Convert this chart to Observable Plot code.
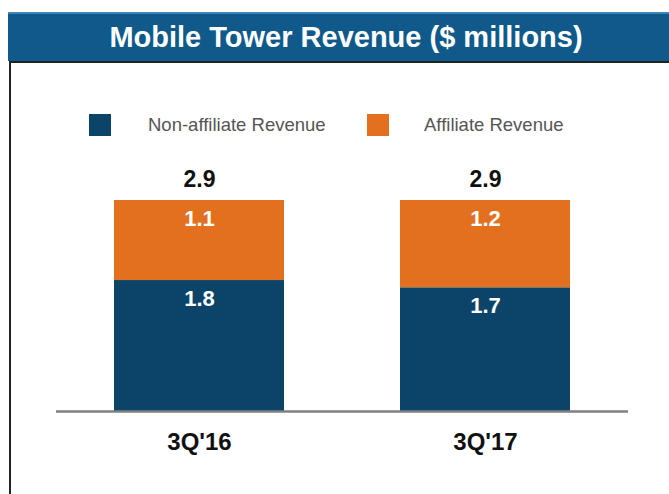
<!DOCTYPE html>
<html>
<head>
<meta charset="utf-8">
<script src="https://cdn.jsdelivr.net/npm/d3@7"></script>
<script src="https://cdn.jsdelivr.net/npm/@observablehq/plot@0.6"></script>
<style>
  html, body { margin: 0; padding: 0; background: #fff; }
  #wrap { position: relative; width: 669px; height: 494px; overflow: hidden; font-family: "Liberation Sans", Arial, sans-serif; }
  #title { position: absolute; left: 8px; top: 12px; width: 676px; height: 49px; background: #0f5a8a; border-top: 2px solid #3f86b8; color: #fff; font-weight: bold; font-size: 29px; line-height: 47px; text-align: center; box-sizing: border-box; }
  #frame { position: absolute; left: 9px; top: 61px; width: 700px; height: 500px; border-left: 2px solid #222; border-top: 2px solid #222; box-sizing: border-box; }
  .leg { position: absolute; top: 114px; height: 22px; display: flex; align-items: center; font-size: 18.5px; color: #555; }
  .sw { width: 22px; height: 22px; display: inline-block; }
  #chart { position: absolute; left: 0; top: 150px; }
</style>
</head>
<body>
<div id="wrap">
  <div id="frame"></div>
  <div id="title">Mobile Tower Revenue ($ millions)</div>
  <div class="leg" id="leg1" style="left:89px"></div>
  <div class="leg" id="leg2" style="left:367px"></div>
  <div id="chart"></div>
</div>
<script>
const categories = ["3Q'16", "3Q'17"];
const nonAffiliate = [1.8, 1.7];
const affiliate = [1.1, 1.2];
const totals = [2.9, 2.9];
const seriesNames = ["Non-affiliate Revenue", "Affiliate Revenue"];
const seriesColors = ["#0b4468", "#e2701f"];

// legend
[["leg1", 0, 37], ["leg2", 1, 35]].forEach(([id, i, gap]) => {
  const el = document.getElementById(id);
  el.innerHTML = `<span class="sw" style="background:${seriesColors[i]}"></span><span style="margin-left:${gap}px">${seriesNames[i]}</span>`;
});

const rows = [];
categories.forEach((c, i) => {
  rows.push({cat: c, series: seriesNames[0], value: nonAffiliate[i], base: 0});
  rows.push({cat: c, series: seriesNames[1], value: affiliate[i], base: nonAffiliate[i]});
});
const totalRows = categories.map((c, i) => ({cat: c, total: totals[i]}));

const chart = Plot.plot({
  width: 669,
  height: 320,
  marginLeft: 56,
  marginRight: 41,
  marginTop: 50,
  marginBottom: 59,
  style: {fontFamily: "Liberation Sans, Arial, sans-serif", background: "transparent"},
  x: {domain: categories, paddingInner: 0.406, paddingOuter: 0.203, label: null},
  y: {domain: [0, 2.9], axis: null},
  color: {domain: seriesNames, range: seriesColors},
  marks: [
    Plot.barY(rows, {x: "cat", y1: "base", y2: d => d.base + d.value, fill: "series"}),
    Plot.ruleY([0], {stroke: "#808080", strokeWidth: 2.5}),
    Plot.text(rows, {x: "cat", y: d => d.base + d.value, text: d => d.value.toFixed(1), dy: 18, fill: "white", fontSize: 22, fontWeight: "bold"}),
    Plot.text(totalRows, {x: "cat", y: "total", text: d => d.total.toFixed(1), dy: -21, fill: "#111", fontSize: 23, fontWeight: "bold"}),
    Plot.axisX({tickSize: 0, tickPadding: 21, fontSize: 24, fontWeight: "bold", fill: "#111", label: null})
  ]
});
document.getElementById("chart").appendChild(chart);
</script>
</body>
</html>
